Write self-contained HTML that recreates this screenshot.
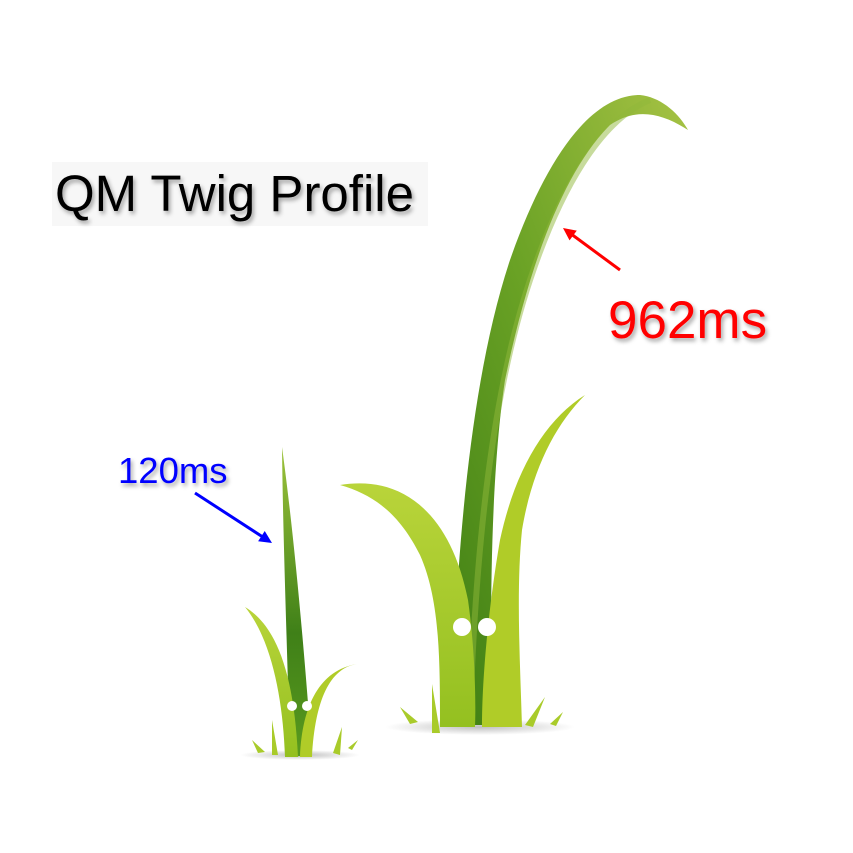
<!DOCTYPE html>
<html><head><meta charset="utf-8"><style>
html,body{margin:0;padding:0;background:#fff;width:853px;height:853px;overflow:hidden}
svg{display:block}
text{font-family:"Liberation Sans",sans-serif}
</style></head><body>
<svg id="s" width="853" height="853" viewBox="0 0 853 853">
<defs>
<linearGradient id="tall" x1="0" y1="1" x2="1" y2="0">
<stop offset="0" stop-color="#3f7f14"/><stop offset="0.5" stop-color="#6aa225"/><stop offset="1" stop-color="#a6c244"/></linearGradient>
<linearGradient id="lite" x1="0" y1="0" x2="0" y2="1">
<stop offset="0" stop-color="#b9d43a"/><stop offset="1" stop-color="#94c020"/></linearGradient>
<linearGradient id="stall" x1="0" y1="0" x2="0" y2="1">
<stop offset="0" stop-color="#9cc23a"/><stop offset="0.6" stop-color="#3f8018"/><stop offset="1" stop-color="#5a9a1e"/></linearGradient>
<radialGradient id="sh"><stop offset="0" stop-color="#000" stop-opacity="0.25"/><stop offset="1" stop-color="#000" stop-opacity="0"/></radialGradient>
<filter id="ts" x="-10%" y="-10%" width="130%" height="140%"><feDropShadow dx="2" dy="3" stdDeviation="2" flood-color="#000" flood-opacity="0.35"/></filter>
</defs>

<g>
<ellipse cx="480" cy="727" rx="95" ry="8" fill="url(#sh)"/>
<path d="M452 725 C455 560 470 380 510 260 C545 160 590 95 640 95 C660 97 678 112 688 130 C660 112 635 108 610 125 C565 170 530 260 505 380 C490 480 490 620 492 725 Z" fill="url(#tall)"/>
<path d="M470 720 C475 560 490 400 530 280 C560 190 600 120 650 100" stroke="#8fb83a" stroke-width="6" fill="none" opacity="0.5"/>
<path d="M340 485 C400 475 450 510 468 600 C475 650 476 700 475 727 L440 727 C440 660 440 600 420 555 C400 515 375 495 340 485 Z" fill="url(#lite)"/>
<path d="M585 395 C545 420 515 470 500 540 C488 610 482 680 482 727 L522 727 C520 660 516 590 522 530 C532 470 555 425 585 395 Z" fill="#b0cc28"/>
<circle cx="462" cy="627" r="9" fill="#fff"/>
<circle cx="487" cy="627" r="9" fill="#fff"/>
<path d="M400 707 L418 722 L410 724 Z M432 684 L440 733 L432 733 Z M525 725 L545 697 L533 727 Z M550 724 L563 712 L556 726 Z" fill="#a9cb2a"/>
</g>

<g>
<ellipse cx="300" cy="755" rx="60" ry="5" fill="url(#sh)"/>
<path d="M282 447 C292 520 302 620 312 755 L290 757 C287 640 283 540 282 447 Z" fill="url(#stall)"/>
<path d="M245 607 C275 625 294 670 298 757 L285 757 C283 700 272 640 245 607 Z" fill="url(#lite)"/>
<path d="M357 664 C330 668 315 700 312 757 L300 757 C302 705 320 670 357 664 Z" fill="#b0cc28"/>
<circle cx="292" cy="706" r="5" fill="#fff"/>
<circle cx="307" cy="706" r="5" fill="#fff"/>
<path d="M252 740 L265 752 L258 753 Z M272 720 L278 755 L272 755 Z M333 753 L342 727 L340 755 Z M348 748 L358 740 L352 750 Z" fill="#a9cb2a"/>
</g>

<rect x="52" y="162" width="376" height="64" fill="#f7f7f7"/>
<text x="55" y="211" font-size="51" fill="#000" filter="url(#ts)">QM Twig Profile</text>

<g id="ann"></g>
</svg>
<script>
const labels = ["small", "large"];
const timesMs = [120, 962];
const labelColors = ["#0000ff", "#ff0000"];
const labelPos = [[118, 483, 36.5], [608, 338, 53]];
const arrowFrom = [[195, 493], [620, 270]];
const arrowTo = [[272, 543], [563, 228]];
const NS = "http://www.w3.org/2000/svg";
const g = document.getElementById("ann");
timesMs.forEach(function (v, i) {
  const t = document.createElementNS(NS, "text");
  
  
  t.setAttribute("x", labelPos[i][0]);
  t.setAttribute("y", labelPos[i][1]);
  t.setAttribute("font-size", labelPos[i][2]);
  t.setAttribute("fill", labelColors[i]);
  t.setAttribute("filter", "url(#ts)");
  t.textContent = v + "ms";
  g.appendChild(t);
  const [x1, y1] = arrowFrom[i], [x2, y2] = arrowTo[i];
  const a = Math.atan2(y2 - y1, x2 - x1), L = 14;
  const ln = document.createElementNS(NS, "line");
  
  
  ln.setAttribute("x1", x1); ln.setAttribute("y1", y1);
  ln.setAttribute("x2", x2 - L * 0.8 * Math.cos(a)); ln.setAttribute("y2", y2 - L * 0.8 * Math.sin(a));
  ln.setAttribute("stroke", labelColors[i]); ln.setAttribute("stroke-width", 3);
  g.appendChild(ln);
  const hd = document.createElementNS(NS, "path");
  
  
  const p1 = [x2 - L * Math.cos(a - 0.45), y2 - L * Math.sin(a - 0.45)];
  const p2 = [x2 - L * Math.cos(a + 0.45), y2 - L * Math.sin(a + 0.45)];
  hd.setAttribute("d", "M" + x2 + " " + y2 + " L" + p1.join(" ") + " L" + p2.join(" ") + " Z");
  hd.setAttribute("fill", labelColors[i]);
  g.appendChild(hd);
});
</script>
</body></html>
